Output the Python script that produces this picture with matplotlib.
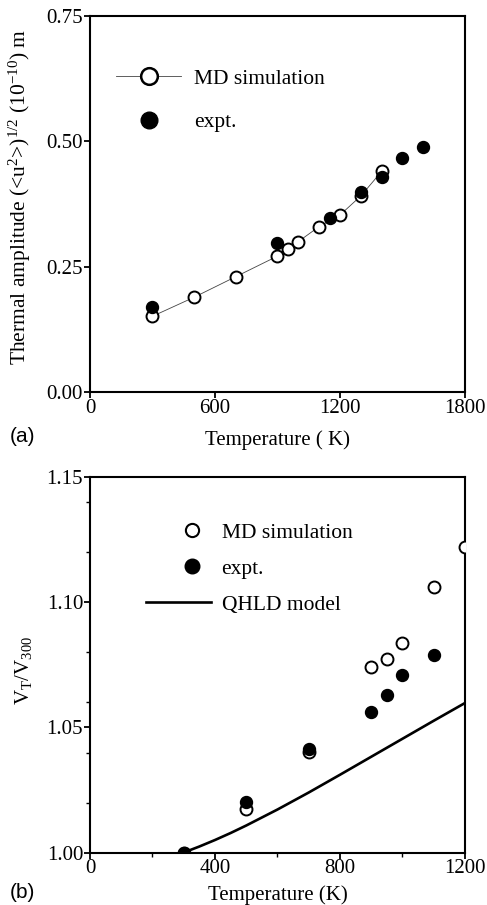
import matplotlib
matplotlib.use("Agg")
import matplotlib.pyplot as plt
from matplotlib.lines import Line2D
from matplotlib.legend_handler import HandlerLine2D
from matplotlib.ticker import FixedLocator

# panel (a): thermal amplitude
md_temp_a = [300, 500, 700, 900, 950, 1000, 1100, 1200, 1300, 1400]
md_amp_a = [0.151, 0.189, 0.230, 0.271, 0.285, 0.300, 0.330, 0.353, 0.391, 0.440]
exp_temp_a = [300, 900, 1150, 1300, 1400, 1500, 1600]
exp_amp_a = [0.169, 0.298, 0.348, 0.398, 0.428, 0.467, 0.489]

# panel (b): volume ratio
md_temp_b = [300, 500, 700, 900, 950, 1000, 1100, 1200]
md_vol_b = [1.000, 1.0173, 1.0402, 1.0740, 1.0772, 1.0838, 1.1060, 1.1220]
exp_temp_b = [300, 500, 700, 900, 950, 1000, 1100]
exp_vol_b = [1.000, 1.0202, 1.0413, 1.0560, 1.0630, 1.0710, 1.0790]
qhld_temp = [300, 350, 400, 450, 500, 600, 700, 800, 900, 1000, 1100, 1200]
qhld_vol = [1.000, 1.0024, 1.0050, 1.0078, 1.0108, 1.0172, 1.0240, 1.0311,
            1.0383, 1.0455, 1.0527, 1.0598]

SERIF = "Liberation Serif"
plt.rcParams["font.family"] = SERIF
plt.rcParams["mathtext.fontset"] = "custom"
plt.rcParams["mathtext.rm"] = SERIF
plt.rcParams["mathtext.it"] = SERIF


class MarkerRight(HandlerLine2D):
    # single marker drawn right of the handle centre (line is invisible anyway)
    def get_xdata(self, legend, xdescent, ydescent, width, height, fontsize):
        x = -xdescent + 0.71 * width
        return [x - 1, x + 1], [x]


fig = plt.figure(figsize=(4.87, 9.05), dpi=100)
ax1 = fig.add_axes([0.1848, 0.5669, 0.77, 0.4154])
ax2 = fig.add_axes([0.1848, 0.0580, 0.77, 0.4144])

open_kw = dict(marker="o", ms=8.6, mfc="white", mec="black", mew=1.4)
fill_kw = dict(marker="o", ms=8.6, mfc="black", mec="black", mew=1.0, ls="none")

for ax in (ax1, ax2):
    for s in ax.spines.values():
        s.set_linewidth(1.5)
    ax.tick_params(direction="out", length=4, width=1.3, labelsize=15, pad=1)
    ax.tick_params(which="minor", direction="out", length=3, width=1.0)

# (a)
ax1.plot(md_temp_a, md_amp_a, color="#444444", lw=0.6, zorder=3, **open_kw)
ax1.plot(exp_temp_a, exp_amp_a, zorder=4, **fill_kw)
ax1.set_xlim(0, 1800)
ax1.set_ylim(0, 0.75)
ax1.set_xticks([0, 600, 1200, 1800])
ax1.set_yticks([0, 0.25, 0.5, 0.75])
ax1.set_yticklabels(["0.00", "0.25", "0.50", "0.75"])
ax1.set_xlabel("Temperature ( K)", fontsize=15, labelpad=9)
ax1.set_ylabel(r"Thermal amplitude (<u$^2$>)$^{1/2}$ (10$^{-10}$) m", fontsize=15.5)
ax1.yaxis.set_label_coords(-0.153, 0.52)
h_md = Line2D([], [], color="#444444", lw=0.6, marker="o", ms=12, mfc="white", mec="black", mew=1.8)
h_ex = Line2D([], [], ls="none", marker="o", ms=12, mfc="black", mec="black")
ax1.legend([h_md, h_ex], ["MD simulation", "expt."], loc="upper left",
           bbox_to_anchor=(0.07, 0.86), frameon=False, fontsize=15.5,
           handlelength=3.0, handletextpad=0.6, labelspacing=1.1, borderpad=0, borderaxespad=0)
fig.text(0.02, 0.518, "(a)", fontsize=15, family="Liberation Sans", va="center")

# (b)
ax2.plot(qhld_temp, qhld_vol, color="black", lw=1.9, zorder=2)
ax2.plot(md_temp_b, md_vol_b, ls="none", zorder=3, **open_kw)
ax2.plot(exp_temp_b, exp_vol_b, zorder=4, **fill_kw)
ax2.set_xlim(0, 1200)
ax2.set_ylim(1.0, 1.15)
ax2.set_xticks([0, 400, 800, 1200])
ax2.xaxis.set_minor_locator(FixedLocator([200, 600, 1000]))
ax2.set_yticks([1.0, 1.05, 1.10, 1.15])
ax2.set_yticklabels(["1.00", "1.05", "1.10", "1.15"])
ax2.yaxis.set_minor_locator(FixedLocator([1.02, 1.04, 1.06, 1.08, 1.12, 1.14]))
ax2.set_xlabel("Temperature (K)", fontsize=15, labelpad=5)
ax2.set_ylabel(r"V$_{\rm T}$/V$_{300}$", fontsize=15)
ax2.yaxis.set_label_coords(-0.15, 0.486)
h_md2 = Line2D([], [], ls="none", marker="o", ms=9.5, mfc="white", mec="black", mew=1.5)
h_ex2 = Line2D([], [], ls="none", marker="o", ms=10.5, mfc="black", mec="black")
h_q = Line2D([], [], color="black", lw=1.9)
ax2.legend([h_md2, h_ex2, h_q], ["MD simulation", "expt.", "QHLD model"], loc="upper left",
           bbox_to_anchor=(0.15, 0.88), frameon=False, fontsize=15.5,
           handlelength=3.0, handletextpad=0.5, labelspacing=0.75, borderpad=0, borderaxespad=0,
           handler_map={h_md2: MarkerRight(), h_ex2: MarkerRight()})
fig.text(0.02, 0.0133, "(b)", fontsize=15, family="Liberation Sans", va="center")

fig.savefig("out.png", dpi=100)
